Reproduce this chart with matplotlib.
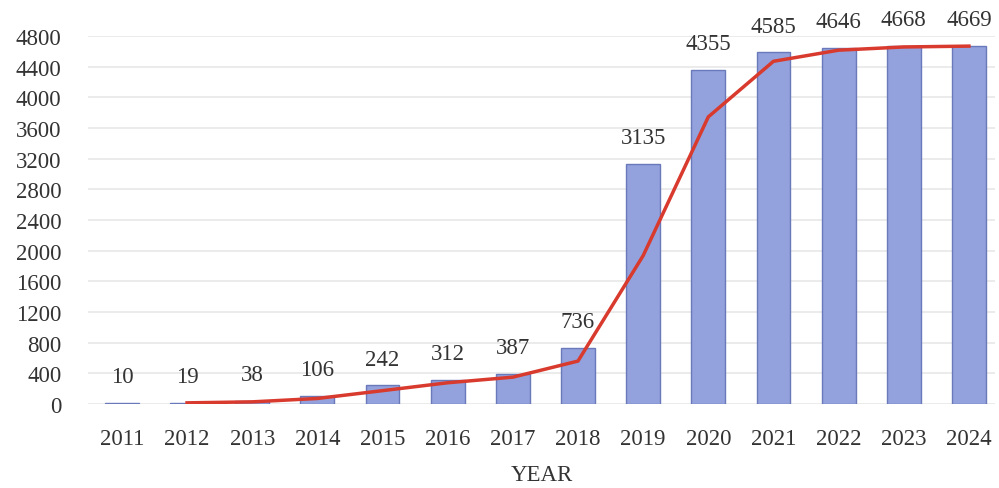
import matplotlib.pyplot as plt
import numpy as np

years = ['2011', '2012', '2013', '2014', '2015', '2016', '2017',
         '2018', '2019', '2020', '2021', '2022', '2023', '2024']
counts = [10, 19, 38, 106, 242, 312, 387, 736, 3135, 4355, 4585, 4646, 4668, 4669]

# trend line (starts at 2012)
trend_years = years[1:]
trend = [15, 28, 72, 174, 277, 350, 560, 1935, 3745, 4470, 4615, 4657, 4668]


def main():
    plt.rcParams['font.family'] = ['Liberation Serif', 'DejaVu Serif']

    fig = plt.figure(figsize=(9.99, 4.89), dpi=100)
    ax = fig.add_axes([88 / 999, 84 / 489, 907 / 999, 368 / 489])

    x = np.arange(len(years))
    ax.bar(x, counts, width=0.52, color='#93a2dc', edgecolor='#6a79b9',
           linewidth=1.0, zorder=2)

    tx = [years.index(y) for y in trend_years]
    ax.plot(tx, trend, color='#d93a2e', linewidth=2.5, zorder=3)

    for xi, v in zip(x, counts):
        ax.annotate(str(v), (xi, v), xytext=(0, 19), textcoords='offset points',
                    ha='center', va='center', fontsize=16.5, color='#333333',
                    annotation_clip=False)

    ax.set_xlim(-0.52, 13.4)
    ax.set_ylim(0, 4800)
    ax.set_yticks(np.arange(0, 4801, 400))
    ax.set_xticks(x)
    ax.set_xticklabels(years)
    ax.tick_params(axis='both', length=0, labelsize=16.5, labelcolor='#333333')
    ax.tick_params(axis='x', pad=17)
    ax.tick_params(axis='y', pad=19)
    ax.grid(axis='y', color='#e8e8e8', linewidth=1.2, zorder=0)
    for s in ax.spines.values():
        s.set_visible(False)

    ax.set_xlabel('YEAR', fontsize=16.5, color='#333333', labelpad=11)

    plt.savefig('out.png', dpi=100)


if __name__ == "__main__":
    main()
